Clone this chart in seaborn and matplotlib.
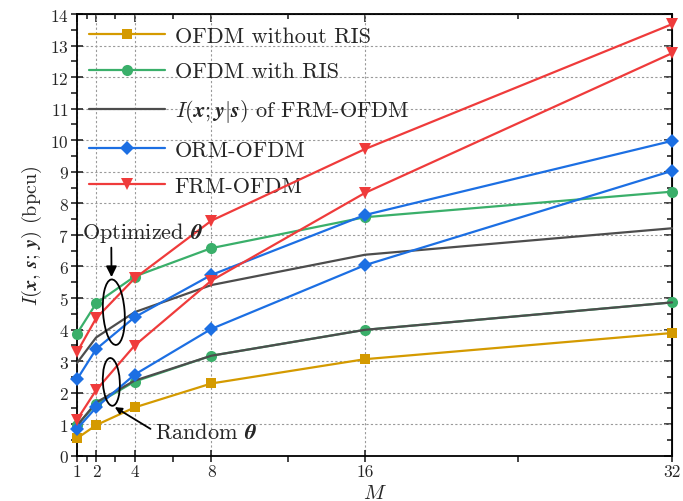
import numpy as np
import pandas as pd
import matplotlib
matplotlib.use("Agg")
import matplotlib.pyplot as plt
import seaborn as sns
from matplotlib.patches import Ellipse

# ---------------- data ----------------
M = [1, 2, 4, 8, 16, 32]
ofdm_no_ris = [0.55, 0.97, 1.53, 2.29, 3.06, 3.89]
ofdm_ris_opt = [3.87, 4.83, 5.68, 6.58, 7.56, 8.37]
ofdm_ris_rand = [0.97, 1.64, 2.35, 3.17, 3.99, 4.86]
cond_mi_opt = [2.94, 3.75, 4.55, 5.41, 6.37, 7.21]
cond_mi_rand = [0.95, 1.69, 2.38, 3.17, 3.99, 4.86]
orm_opt = [2.42, 3.38, 4.39, 5.73, 7.63, 9.98]
orm_rand = [0.85, 1.53, 2.57, 4.02, 6.04, 9.03]
frm_opt = [3.28, 4.36, 5.62, 7.45, 9.72, 13.68]
frm_rand = [1.14, 2.08, 3.49, 5.55, 8.33, 12.76]

xticks = [1, 2, 4, 8, 16, 32]
xminor = [1.5, 3, 6, 12, 24]

labels = ["OFDM without RIS", "OFDM with RIS",
          r"$I(\boldsymbol{x};\boldsymbol{y}|\boldsymbol{s})$ of FRM-OFDM",
          "ORM-OFDM", "FRM-OFDM"]

# ---------------- style ----------------
sns.set_style("ticks")
plt.rcParams["font.family"] = ["serif"]
plt.rcParams["font.serif"] = ["cmr10", "DejaVu Serif"]
plt.rcParams["mathtext.fontset"] = "cm"
plt.rcParams["axes.formatter.use_mathtext"] = True
plt.rcParams["axes.unicode_minus"] = False

c_yel = "#D49A00"
c_grn = "#3AAF6A"
c_gry = "#4D4D4D"
c_blu = "#1C6FE3"
c_red = "#EF3B3B"

fig = plt.figure(figsize=(6.83, 5.02), dpi=100)
ax = fig.add_axes([0.1127, 0.0902, 0.8713, 0.8798])

lw = 1.6
def draw(y, color, marker, ms, z, label=None):
    sns.lineplot(x=M, y=y, ax=ax, color=color, marker=marker, markersize=ms,
                 markeredgewidth=0, linewidth=lw, label=label, zorder=z,
                 clip_on=False,
                 legend=False if label is None else "auto")

draw(ofdm_no_ris, c_yel, "s", 7.5, 3, labels[0])
draw(ofdm_ris_opt, c_grn, "o", 8, 4, labels[1])
draw(ofdm_ris_rand, c_grn, "o", 8, 4)
draw(cond_mi_opt, c_gry, None, 0, 5, labels[2])
draw(cond_mi_rand, c_gry, None, 0, 5)
draw(orm_opt, c_blu, "D", 7.5, 6, labels[3])
draw(orm_rand, c_blu, "D", 7.5, 6)
draw(frm_opt, c_red, "v", 9, 7, labels[4])
draw(frm_rand, c_red, "v", 9, 7)

ax.set_xlim(1, 32)
ax.set_ylim(0, 14)
ax.set_xticks(xticks)
ax.set_xticklabels([str(v) for v in xticks])
ax.set_xticks(xminor, minor=True)
ax.set_yticks(np.arange(0, 15, 1))
ax.set_yticks(np.arange(0.5, 14, 1), minor=True)
ax.tick_params(axis="both", which="major", direction="inout", length=8, width=1.2, labelsize=12.5, pad=2)
ax.tick_params(axis="both", which="minor", direction="out", length=4, width=1.2)
for s in ax.spines.values():
    s.set_linewidth(1.3)
    s.set_color("black")

# mirrored inward ticks on top/right
axt = ax.secondary_xaxis("top")
axt.set_xticks(xticks)
axt.set_xticks(xminor, minor=True)
axt.tick_params(which="major", direction="in", length=6, width=1.2, labeltop=False)
axt.tick_params(which="minor", direction="in", length=3.5, width=1.2)
axr = ax.secondary_yaxis("right")
axr.set_yticks(np.arange(0, 15, 1))
axr.set_yticks(np.arange(0.5, 14, 1), minor=True)
axr.tick_params(which="major", direction="in", length=6, width=1.2, labelright=False)
axr.tick_params(which="minor", direction="in", length=3.5, width=1.2)

ax.grid(True, which="major", linestyle=(0, (2, 2)), color="#9a9a9a", linewidth=0.8)
ax.set_axisbelow(True)

ax.set_xlabel(r"$M$", fontsize=15, labelpad=3)
ax.set_ylabel(r"$I(\boldsymbol{x},\,\boldsymbol{s};\,\boldsymbol{y})$ (bpcu)", fontsize=14.5, labelpad=4)

leg = ax.legend(loc="upper left", frameon=False, fontsize=16, handlelength=3.4,
                labelspacing=0.72, borderaxespad=0.15, handletextpad=0.45,
                bbox_to_anchor=(0.0, 1.0))

# annotations
ax.add_patch(Ellipse((2.92, 4.55), 1.12, 2.09, angle=8, fill=False, edgecolor="black", lw=1.3, zorder=9))
ax.add_patch(Ellipse((2.79, 2.34), 0.88, 1.52, angle=6, fill=False, edgecolor="black", lw=1.3, zorder=9))
ax.annotate(r"Optimized $\boldsymbol{\theta}$", xy=(2.8, 5.66), xytext=(4.4, 7.08),
            ha="center", va="center", fontsize=16,
            arrowprops=dict(arrowstyle="-|>", color="black", lw=1.3, shrinkA=0, shrinkB=0,
                            connectionstyle="arc3", relpos=(0.245, 0.0)), zorder=10)
ax.annotate("", xy=(2.97, 1.54), xytext=(4.83, 0.85),
            arrowprops=dict(arrowstyle="-|>", color="black", lw=1.3, shrinkA=0, shrinkB=0), zorder=10)
ax.text(5.04, 0.75, r"Random $\boldsymbol{\theta}$", ha="left", va="center", fontsize=16, zorder=10)

fig.savefig("out.png", dpi=100)
